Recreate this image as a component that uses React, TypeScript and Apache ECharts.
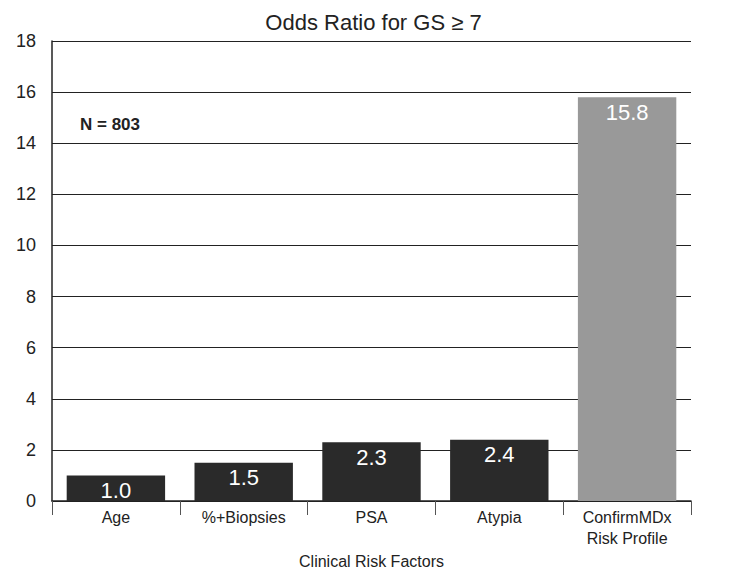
import React, { useEffect, useRef } from "react";
import * as echarts from "echarts";

const categories = ["Age", "%+Biopsies", "PSA", "Atypia", "ConfirmMDx\nRisk Profile"];
const oddsRatios = [1.0, 1.5, 2.3, 2.4, 15.8];
const barColors = ["#2a2a2a", "#2a2a2a", "#2a2a2a", "#2a2a2a", "#999999"];
const yTicks = { min: 0, max: 18, interval: 2 };

const FONT = "Liberation Sans, Arial, Helvetica, sans-serif";

export default function App() {
  const ref = useRef<HTMLDivElement>(null);
  useEffect(() => {
    if (!ref.current) return;
    const chart = echarts.init(ref.current, null, { renderer: "svg" });
    chart.setOption({
      animation: false,
      backgroundColor: "#ffffff",
      textStyle: { fontFamily: FONT },
      title: {
        text: "Odds Ratio for GS ≥ 7",
        left: "center",
        top: 6,
        textStyle: { fontFamily: FONT, fontSize: 22, fontWeight: "normal", color: "#222" },
      },
      grid: { left: 52, right: 56, top: 41, bottom: 69, containLabel: false, outerBoundsMode: "none" },
      graphic: [
        {
          type: "text",
          left: 80,
          top: 116,
          style: { text: "N = 803", fontFamily: FONT, fontSize: 17, fontWeight: "bold", fill: "#222" },
        },
      ],
      xAxis: {
        type: "category",
        data: categories,
        name: "Clinical Risk Factors",
        nameLocation: "middle",
        nameGap: 37,
        nameTextStyle: { fontFamily: FONT, fontSize: 16, color: "#222" },
        axisLine: { show: true, lineStyle: { color: "#222", width: 1.5 } },
        axisTick: { show: true, length: 14, lineStyle: { color: "#555", width: 1 } },
        axisLabel: { fontFamily: FONT, fontSize: 16, color: "#222", margin: 6, lineHeight: 21, interval: 0 },
      },
      yAxis: {
        type: "value",
        min: yTicks.min,
        max: yTicks.max,
        interval: yTicks.interval,
        axisLine: { show: true, lineStyle: { color: "#222", width: 1.5 } },
        axisTick: { show: false },
        axisLabel: { fontFamily: FONT, fontSize: 18, color: "#222", margin: 16 },
        splitLine: { show: true, lineStyle: { color: "#222", width: 1.2 } },
      },
      series: [
        {
          type: "bar",
          data: oddsRatios.map((v, i) => ({ value: v, itemStyle: { color: barColors[i] } })),
          barCategoryGap: "23%",
          label: {
            show: true,
            position: "insideTop",
            distance: 4,
            formatter: (p: any) => Number(p.value).toFixed(1),
            fontFamily: FONT,
            fontSize: 22,
            color: "#ffffff",
          },
        },
      ],
    });
    return () => chart.dispose();
  }, []);
  return <div ref={ref} style={{ position: "fixed", left: 0, top: 0, width: 747, height: 570 }} />;
}
